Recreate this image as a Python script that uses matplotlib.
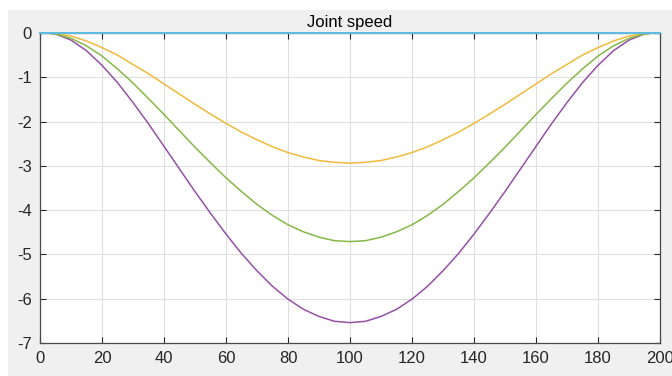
import matplotlib.pyplot as plt
from matplotlib.patches import Rectangle

# sample positions
x_vals = [2, 5, 10, 15, 20, 25, 30, 35, 40, 45, 50, 55, 60, 65, 70, 75, 80, 85, 90, 95,
          100, 105, 110, 115, 120, 125, 130, 135, 140, 145, 150, 155, 160, 165, 170, 175,
          180, 185, 190, 195, 198]
x_zero = [0, 200]

yellow_half = [0, -0.01, -0.07, -0.18, -0.33, -0.50, -0.71, -0.92, -1.15, -1.38, -1.61,
               -1.83, -2.04, -2.24, -2.41, -2.57, -2.70, -2.80, -2.88, -2.92]
green_half = [0, -0.02, -0.12, -0.29, -0.52, -0.81, -1.13, -1.48, -1.84, -2.21, -2.58,
              -2.93, -3.27, -3.58, -3.87, -4.12, -4.33, -4.49, -4.61, -4.69]
purple_half = [0, -0.02, -0.16, -0.40, -0.73, -1.12, -1.57, -2.05, -2.56, -3.07, -3.58,
               -4.07, -4.54, -4.98, -5.37, -5.72, -6.01, -6.24, -6.40, -6.51]

# curves are symmetric about x=100
speed_yellow = yellow_half + [-2.94] + yellow_half[::-1]
speed_green = green_half + [-4.71] + green_half[::-1]
speed_purple = purple_half + [-6.54] + purple_half[::-1]
speed_zero = [0, 0]

x_ticks = [0, 20, 40, 60, 80, 100, 120, 140, 160, 180, 200]
y_ticks = [0, -1, -2, -3, -4, -5, -6, -7]

plt.rcParams['font.family'] = ['Liberation Sans', 'DejaVu Sans']
plt.rcParams['axes.unicode_minus'] = False

fig = plt.figure(figsize=(6.72, 3.76), dpi=100, facecolor='white')
fig.patches.append(Rectangle((8 / 672, 0), 1, 1 - 10 / 376, transform=fig.transFigure,
                             facecolor='#f0f0f0', edgecolor='none', zorder=-1))

ax = fig.add_axes([40 / 672, 33 / 376, 620 / 672, 310 / 376])
ax.set_facecolor('white')

ax.plot(x_zero, speed_zero, color='#0072BD', lw=1.1, clip_on=False, zorder=3)
ax.plot(x_zero, speed_zero, color='#D95319', lw=1.1, clip_on=False, zorder=3)
ax.plot(x_vals, speed_yellow, color='#F0BA3C', lw=1.1, zorder=3)
ax.plot(x_vals, speed_purple, color='#9550A8', lw=1.1, zorder=3)
ax.plot(x_vals, speed_green, color='#86B846', lw=1.1, zorder=3)
ax.plot(x_zero, speed_zero, color='#5BBEE6', lw=1.4, clip_on=False, zorder=3)

ax.set_xlim(0, 200)
ax.set_ylim(-7, 0)
ax.set_xticks(x_ticks)
ax.set_yticks(y_ticks)
ax.grid(True, color='#dfdfdf', lw=0.8)
ax.set_axisbelow(True)
ax.tick_params(direction='in', length=4, width=0.8, color='#262626', labelcolor='#262626',
               labelsize=12, top=True, right=True, pad=6)
for sp in ax.spines.values():
    sp.set_color('#4a4a4a')
    sp.set_linewidth(0.9)

ax.set_title('Joint speed', fontsize=12, color='black', pad=4)

fig.savefig('out.png', dpi=100, facecolor=fig.get_facecolor())
